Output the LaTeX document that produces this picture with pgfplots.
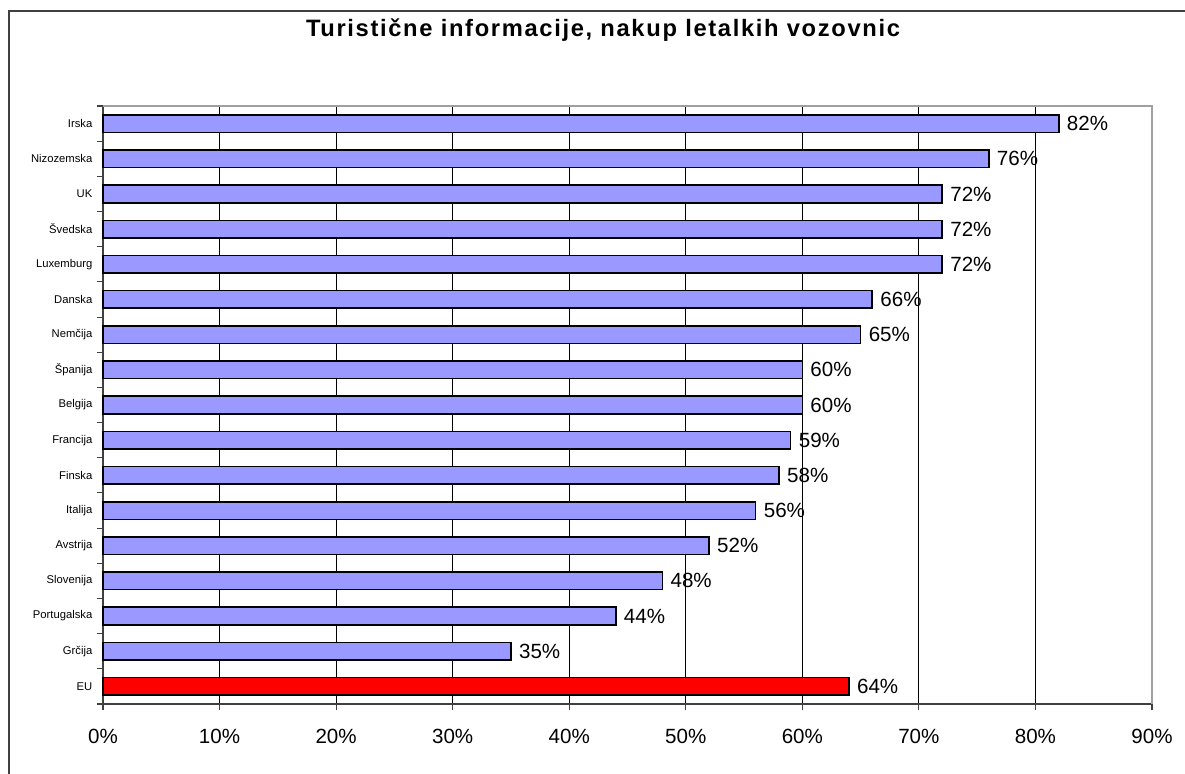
\documentclass[border=0pt]{standalone}
\usepackage{fontspec}
\setmainfont{Liberation Sans}
\usepackage{pgfplots}
\pgfplotsset{compat=1.18}
\definecolor{barblue}{HTML}{9999FF}
\definecolor{axisdark}{HTML}{404040}
\definecolor{axislight}{HTML}{A0A0A0}

\begin{document}
\begin{tikzpicture}
\useasboundingbox (0,0) rectangle (23.7cm,15.46cm);
% outer chart frame (only top and left are visible)
\draw[axisdark, line width=0.8pt] (0.18cm,-1cm) -- (0.18cm,15.24cm) -- (25cm,15.24cm);
\node[anchor=base, font=\bfseries\fontsize{13.5}{16}\selectfont\addfontfeature{LetterSpace=7}]
  at (12.06cm,14.72cm) {Turistične informacije, nakup letalkih vozovnic};

\begin{axis}[
  at={(2.06cm,1.38cm)}, anchor=south west,
  scale only axis,
  width=20.98cm, height=11.96cm,
  xbar, bar width=0.5, bar shift=0pt,
  xmin=0, xmax=90,
  ymin=-0.5, ymax=16.5,
  axis x line*=bottom, axis y line*=left,
  axis line style={axisdark, line width=0.8pt},
  xtick={0,10,...,90},
  xticklabel={\pgfmathprintnumber{\tick}\%},
  ytick={-0.5,0.5,...,16.5},
  yticklabels={EU,Grčija,Portugalska,Slovenija,Avstrija,Italija,Finska,Francija,Belgija,Španija,Nemčija,Danska,Luxemburg,Švedska,UK,Nizozemska,Irska,{}},
  yticklabel style={yshift=0.352cm, font=\fontsize{6.4}{7}\selectfont, xshift=0.02cm},
  xticklabel style={font=\fontsize{11.7}{14}\selectfont, yshift=-0.26cm},
  tick align=outside,
  major tick length=0.11cm,
  tick style={axisdark, line width=0.6pt},
  xmajorgrids,
  grid style={black, line width=0.5pt},
  /pgf/number format/assume math mode=true,
  point meta=x,
  nodes near coords={\pgfmathprintnumber{\pgfplotspointmeta}\%},
  every node near coord/.append style={font=\fontsize{11.7}{14}\selectfont, text=black, xshift=0.03cm},
  clip=false,
]
\addplot[draw=black, fill=barblue, line width=0.9pt, bar shift=0pt] coordinates {
  (35,1) (44,2) (48,3) (52,4) (56,5) (58,6) (59,7) (60,8) (60,9)
  (65,10) (66,11) (72,12) (72,13) (72,14) (76,15) (82,16)
};
\addplot[draw=black, fill=red, line width=0.9pt, bar shift=0pt] coordinates {(64,0)};
\draw[axislight, line width=0.8pt] (rel axis cs:0,1) -- (rel axis cs:1,1) -- (rel axis cs:1,0);
\end{axis}
\end{tikzpicture}
\end{document}
